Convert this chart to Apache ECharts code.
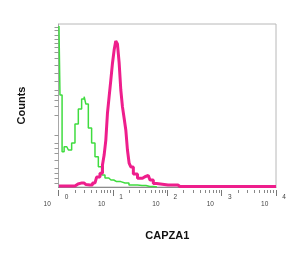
<!DOCTYPE html>
<html>
<head>
<meta charset="utf-8">
<script src="https://cdn.jsdelivr.net/npm/echarts@6/dist/echarts.min.js"></script>
<style>
  html, body { margin: 0; padding: 0; background: #fff; }
  #chart { width: 300px; height: 254px; }
</style>
</head>
<body>
<div id="chart"></div>
<script>
// isotype control (green) - [intensity, % of max counts]
const controlX = [1.02, 1.11, 1.22, 1.32, 1.42, 1.63, 1.87, 2.16, 2.48, 2.86, 3.07, 3.3, 3.79, 4.36, 5.04, 5.79, 6.66, 7.69, 9.22, 11.7, 16.7, 23.4, 34.3, 48, 64.7];
const controlY = [98.8, 56.4, 21.7, 24.7, 24.7, 22.7, 27.0, 38.6, 47.9, 54.0, 55.4, 50.9, 36.2, 27.0, 18.6, 12.5, 7.4, 5.5, 4.3, 3.3, 2.5, 1.2, 0.9, 0.3, 0];

// CAPZA1 stained (pink)
const capzaX = [1.02, 2.01, 2.28, 2.7, 3.2, 3.79, 4.69, 5.39, 6.22, 6.66, 7.16, 7.69, 8.23, 8.85, 9.5, 10.2, 10.9, 11.7, 12.6, 13.5, 14.5, 15.5, 16.7, 17.9, 19.2, 20.6, 22.2, 25.5, 31.5, 38.9, 44.8, 51.7, 59.4, 68.4, 157, 171, 10000];
const capzaY = [0.6, 0.6, 1.8, 2.5, 1.5, 1.2, 2.5, 6.1, 8.4, 13.5, 19.6, 28.8, 45.4, 55.4, 65.6, 76.1, 84.0, 89.6, 87.7, 76.1, 59.5, 49.3, 42.3, 35.0, 22.7, 14.7, 12.3, 8.0, 5.3, 6.3, 7.1, 4.3, 2.1, 1.2, 1.2, 0.3, 0.3];

// y tick marks as drawn on the original counts axis
const yTicks = [98.3, 95.9, 93.3, 90.6, 88.2, 85.5, 82.4, 79.0, 74.8, 69.8, 65.0, 59.5, 56.4, 53.4, 49.3, 44.2, 31.9, 26.8, 23.7, 20.7, 16.6, 11.5, 8.4, 5.3, 2.6];

const xMajor = [1, 10, 100, 1000, 10000];
const xMinor = [];
for (let d = 1; d < 10000; d *= 10) {
    for (let k = 2; k <= 9; k++) xMinor.push(k * d);
}

const zip = (xs, ys) => xs.map((x, i) => [x, ys[i]]);

const chart = echarts.init(document.getElementById("chart"));

const baseX = {
    type: "log",
    logBase: 10,
    min: 1,
    max: 10000,
    position: "bottom",
    splitLine: { show: false },
    axisLine: { show: false },
    axisLabel: { show: false },
    axisTick: { show: false }
};

chart.setOption({
    animation: false,
    grid: {
        left: 58.5,
        right: 24,
        top: 24,
        bottom: 67,
        show: true,
        borderColor: "#b8b8b8",
        borderWidth: 1
    },
    xAxis: [
        {
            ...baseX,
            axisLine: { show: true, lineStyle: { color: "#8c8c8c", width: 1 } },
            axisLabel: {
                show: true,
                margin: 7,
                customValues: xMajor,
                formatter: (v) => `{b|10}{e|${Math.round(Math.log10(v))}}`,
                rich: {
                    b: { fontSize: 6.5, color: "#444", fontFamily: "Liberation Sans", padding: [7, 0, 0, 0] },
                    e: { fontSize: 6.5, color: "#444", fontFamily: "Liberation Sans", padding: [0, 5, 7, 14] }
                }
            },
            name: "CAPZA1",
            nameLocation: "middle",
            nameGap: 43,
            nameTextStyle: { fontFamily: "Liberation Sans", fontWeight: "bold", fontSize: 11, color: "#111" }
        },
        {
            ...baseX,
            offset: 3,
            axisTick: { show: true, length: 6, customValues: xMajor, lineStyle: { color: "#777" } }
        },
        {
            ...baseX,
            offset: 3,
            axisTick: { show: true, length: 3, customValues: xMinor, lineStyle: { color: "#888" } }
        }
    ],
    yAxis: {
        type: "value",
        min: 0,
        max: 100,
        splitLine: { show: false },
        axisLine: { show: true, lineStyle: { color: "#a8a8a8" } },
        axisLabel: { show: false },
        axisTick: { show: true, length: 4, customValues: yTicks, lineStyle: { color: "#999" } },
        name: "Counts",
        nameLocation: "middle",
        nameGap: 31,
        nameTextStyle: { fontFamily: "Liberation Sans", fontWeight: "bold", fontSize: 11, color: "#111" }
    },
    series: [
        {
            type: "line",
            xAxisIndex: 0,
            data: zip(controlX, controlY),
            step: "middle",
            symbol: "none",
            lineStyle: { color: "#3fdc3f", width: 1.5 },
            z: 2
        },
        {
            type: "line",
            xAxisIndex: 0,
            data: zip(capzaX, capzaY),
            step: "middle",
            symbol: "none",
            lineStyle: { color: "#ee1e8c", width: 3 },
            z: 3
        }
    ]
});
</script>
</body>
</html>
